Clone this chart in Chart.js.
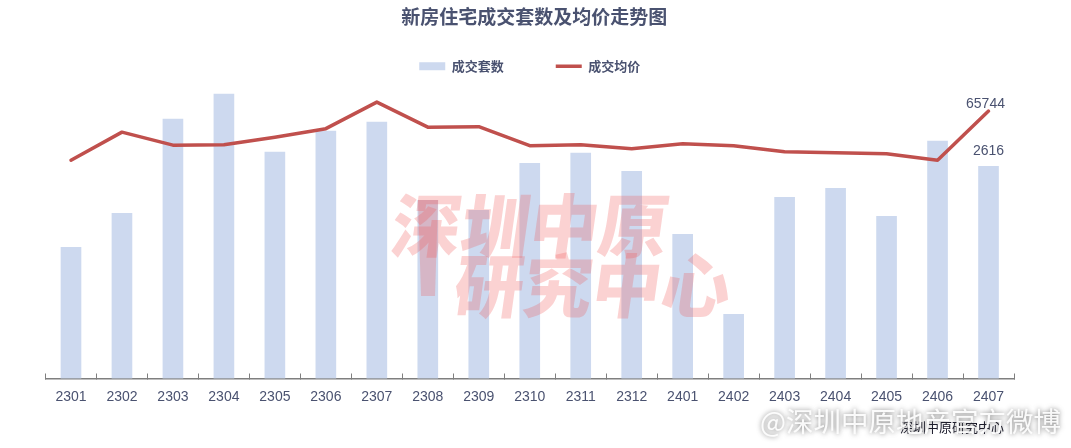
<!DOCTYPE html>
<html><head><meta charset="utf-8">
<style>html,body{margin:0;padding:0;background:#fff}canvas{display:block}</style>
<script src="https://cdn.jsdelivr.net/npm/chart.js@4"></script></head>
<body><canvas id="c" width="1071" height="448"></canvas>
<script>
const categories=['2301','2302','2303','2304','2305','2306','2307','2308','2309','2310','2311','2312','2401','2402','2403','2404','2405','2406','2407'];
const units=[1617,2036,3196,3505,2789,3048,3159,2197,2073,2653,2777,2554,1777,790,2234,2345,1999,2925,2616];
const prices=[53680,60570,57370,57490,59340,61430,67960,61800,61920,57240,57490,56500,57730,57240,55770,55520,55270,53680,65744];
const titleText='新房住宅成交套数及均价走势图';
const seriesNames=['成交套数','成交均价'];
const cjk='"Noto Sans CJK SC"';
const numFont='"Liberation Sans"';
const ink='#4a5270';
const overlay={
  id:'overlay',
  beforeLayout(chart){
    const lg=chart.legend;
    if(lg && !lg._patched){
      const fit=lg.fit.bind(lg);
      lg.fit=function(){fit();this.height=70.3;};
      lg._patched=true;
    }
  },
  afterLayout(chart){
    const t=chart.titleBlock;
    if(t){t.left+=9;}
  },
  afterDatasetsDraw(chart){
    const {ctx}=chart;
    const xs=chart.getDatasetMeta(1).data, xb=chart.getDatasetMeta(0).data;
    ctx.save();
    ctx.font='14px '+numFont;ctx.fillStyle=ink;ctx.textAlign='center';ctx.textBaseline='middle';
    const li=prices.length-1;
    ctx.fillText(String(prices[li]),xs[li].x-3,xs[li].y-7);
    ctx.fillText(String(units[li]),xb[li].x,xb[li].y-15.5);
    ctx.restore();
  },
  afterDraw(chart){
    const {ctx}=chart;
    ctx.save();
    ctx.fillStyle='rgba(240,90,90,0.27)';
    ctx.textAlign='left';ctx.textBaseline='middle';
    ctx.font='900 69px '+cjk;
    ctx.save();ctx.transform(1,0,-0.14,1,0,0);
    ctx.fillText('深圳中原',393+31,226);
    ctx.fillText('研究中心',455+40,286);
    ctx.restore();
    ctx.beginPath();ctx.moveTo(418,200);ctx.lineTo(438,200);ctx.lineTo(435,296);ctx.lineTo(421,296);ctx.closePath();ctx.fill();
    ctx.restore();
    ctx.save();
    ctx.font='13px '+cjk;ctx.fillStyle='#1a1a2a';ctx.textBaseline='middle';
    ctx.fillText('深圳中原研究中心',900,427);
    ctx.font='27.5px '+cjk;ctx.textBaseline='middle';
    ctx.shadowColor='rgba(70,70,70,0.8)';ctx.shadowBlur=5;
    ctx.fillStyle='rgba(255,255,255,0.92)';
    ctx.fillText('@深圳中原地产官方微博',760,422);
    ctx.restore();
  }
};
new Chart(document.getElementById('c'),{
  data:{labels:categories,datasets:[
    {type:'bar',label:seriesNames[0],data:units,yAxisID:'y',backgroundColor:'#cdd9ef',barThickness:20,order:2},
    {type:'line',label:seriesNames[1],data:prices,yAxisID:'y1',borderColor:'#c0504d',backgroundColor:'#c0504d',borderWidth:3.5,pointRadius:0,tension:0,order:1,borderCapStyle:'round',borderJoinStyle:'round'}
  ]},
  plugins:[overlay],
  options:{
    responsive:false,animation:false,
    layout:{padding:{left:45.5,right:57,top:0,bottom:0}},
    plugins:{
      tooltip:{enabled:false},
      title:{display:true,text:titleText,color:ink,font:{family:cjk,size:19,weight:'bold'},padding:{top:5,bottom:-20}},
      legend:{display:true,position:'top',
        labels:{color:ink,font:{family:cjk,size:13,weight:'bold'},usePointStyle:true,pointStyleWidth:26,boxHeight:8,padding:52,
          generateLabels(){return [
            {text:seriesNames[0],fillStyle:'#cdd9ef',strokeStyle:'#cdd9ef',lineWidth:0,pointStyle:'rect',fontColor:ink,datasetIndex:0},
            {text:seriesNames[1],fillStyle:'#c0504d',strokeStyle:'#c0504d',lineWidth:3.5,pointStyle:'line',fontColor:ink,datasetIndex:1}
          ];}}
      }
    },
    scales:{
      x:{afterFit(s){s.height=69.5;},
        border:{color:'#7f7f7f',width:1.5},
        grid:{drawOnChartArea:false,color:'#7f7f7f',tickLength:-5,offset:true},
        ticks:{color:ink,font:{family:numFont,size:14},padding:15.5,maxRotation:0,autoSkip:false}},
      y:{display:false,min:0,max:3702},
      y1:{display:false,min:0,max:73860}
    }
  }
});
</script></body></html>
